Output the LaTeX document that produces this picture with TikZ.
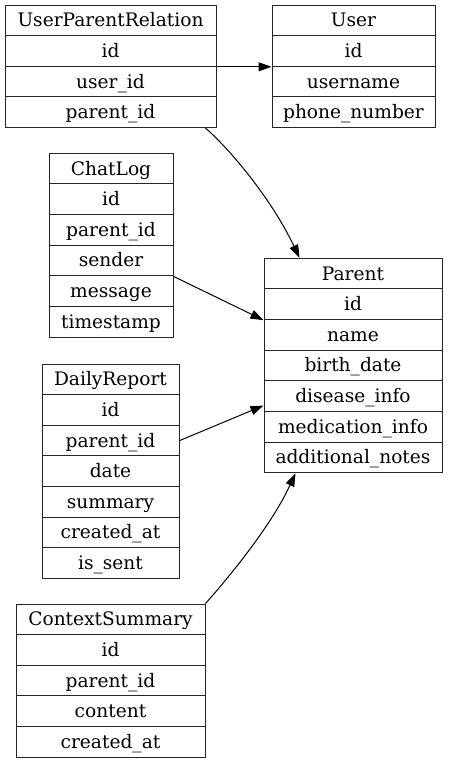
\documentclass[tikz,border=0pt]{standalone}
\usepackage{fontspec}
\setmainfont{DejaVu Serif}
\usetikzlibrary{arrows.meta,calc}
\newcommand{\rowh}{30.65}
% \mkrecord{name}{x-left}{x-right}{y-top}{list of fields}
\newcommand{\mkrecord}[5]{%
  \foreach \lab [count=\i from 0] in {#5} {%
    \node[field, minimum width=#3pt-#2pt] (#1-\i) at ({(#2+#3)/2*1pt}, {-(#4+\rowh*\i+\rowh/2)*1pt}) {\lab};
  }%
}
\begin{document}
\begin{tikzpicture}[x=1pt,y=1pt,
  field/.style={draw=black!85, line width=1pt, minimum height=\rowh pt, inner sep=0pt,
    text height=14pt, text depth=1.2pt,
    font=\fontsize{18.6}{21}\selectfont, anchor=center},
  link/.style={line width=1pt, -{Triangle[length=13pt,width=9pt]}}]
\useasboundingbox (0,0) rectangle (448,-763);
\mkrecord{upr}{5}{216}{5}{UserParentRelation,id,user\_id,parent\_id}
\mkrecord{user}{272}{435}{5}{User,id,username,phone\_number}
\mkrecord{chat}{49}{173}{153.3}{ChatLog,id,parent\_id,sender,message,timestamp}
\mkrecord{parent}{264}{442}{258.3}{Parent,id,name,birth\_date,disease\_info,medication\_info,additional\_notes}
\mkrecord{daily}{42}{179}{364}{DailyReport,id,parent\_id,date,summary,created\_at,is\_sent}
\mkrecord{ctx}{16}{205}{604}{ContextSummary,id,parent\_id,content,created\_at}
\draw[link] (upr-1.south east) -- (user-1.south west);
\draw[link] ($(upr-3.south east)+(-11,0)$) .. controls ($(upr-3.south east)+(9,-17)$) and ($(parent-0.north west)+(6,63)$) .. ($(parent-0.north west)+(36,0)$);
\draw[link] (chat-3.south east) -- (parent-1.south west);
\draw[link] (daily-2.east) -- ($(parent-4.south west)+(0,6.5)$);
\draw[link] (ctx-0.north east) .. controls ($(ctx-0.north east)+(17,19)$) and ($(parent-6.south west)+(6,-56)$) .. ($(parent-6.south west)+(32,0)$);
\end{tikzpicture}
\end{document}
